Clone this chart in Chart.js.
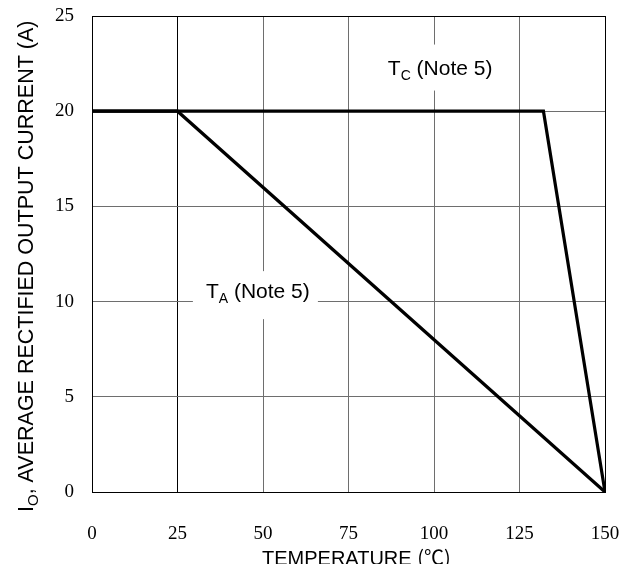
<!DOCTYPE html>
<html>
<head>
<meta charset="utf-8">
<script src="https://cdn.jsdelivr.net/npm/chart.js@4.4.1/dist/chart.umd.min.js"></script>
<style>
    body { margin: 0; background: #fff; }
    #ChartWrapper { width: 637px; height: 564px; }
</style>
</head>
<body>
<div id="ChartWrapper"><canvas id="Chart"></canvas></div>
<script>
// данные графика: температура и ток
var tempTc = [0, 132, 150];
var currTc = [20, 20, 0];
var tempTa = [0, 25, 150];
var currTa = [20, 20, 0];
var xTicks = [0, 25, 50, 75, 100, 125, 150];
var yTicks = [0, 5, 10, 15, 20, 25];

function toPoints(xs, ys) {
    var pts = [];
    for (var i = 0; i < xs.length; i++) {
        pts.push({ x: xs[i], y: ys[i] });
    }
    return pts;
}

var sansFont = "'Liberation Sans', Arial, sans-serif";

// текст с нижним индексом: T + sub + rest
function drawSubText(ctx, x, y, main, sub, rest, size) {
    ctx.font = size + "px " + sansFont;
    ctx.fillText(main, x, y);
    var w = ctx.measureText(main).width;
    ctx.font = Math.round(size * 0.68) + "px " + sansFont;
    ctx.fillText(sub, x + w, y + size * 0.25);
    w += ctx.measureText(sub).width;
    ctx.font = size + "px " + sansFont;
    ctx.fillText(rest, x + w, y);
}

var labelsPlugin = {
    id: 'noteLabels',
    beforeDatasetsDraw: function (chart) {
        var ctx = chart.ctx;
        var xs = chart.scales.x;
        var ys = chart.scales.y;
        ctx.save();
        ctx.fillStyle = '#fff';
        // белые подложки под подписями
        ctx.fillRect(xs.getPixelForValue(84.5), ys.getPixelForValue(23.5), 122, 46);
        ctx.fillRect(xs.getPixelForValue(29.5), ys.getPixelForValue(11.6), 125, 48);
        ctx.fillStyle = '#000';
        ctx.textBaseline = 'alphabetic';
        ctx.textAlign = 'left';
        drawSubText(ctx, xs.getPixelForValue(86.5), ys.getPixelForValue(21.9), 'T', 'C', ' (Note 5)', 21);
        drawSubText(ctx, xs.getPixelForValue(33.3), ys.getPixelForValue(10.2), 'T', 'A', ' (Note 5)', 21);
        ctx.restore();
    },
    afterDraw: function (chart) {
        var ctx = chart.ctx;
        ctx.save();
        ctx.fillStyle = '#000';
        ctx.textBaseline = 'alphabetic';
        ctx.textAlign = 'left';
        // подпись оси X
        ctx.font = "20px " + sansFont;
        ctx.fillText('TEMPERATURE', 262, 565);
        var w = ctx.measureText('TEMPERATURE ').width;
        ctx.font = "20px 'Noto Sans CJK JP', sans-serif";
        ctx.fillText('(℃)', 262 + w, 565);
        // подпись оси Y (повернута)
        ctx.translate(33, 512);
        ctx.rotate(-Math.PI / 2);
        drawSubText(ctx, 0, 0, 'I', 'O', ', AVERAGE RECTIFIED OUTPUT CURRENT (A)', 21.5);
        ctx.restore();
    }
};

function gridColor(c) {
    var v = c.tick ? c.tick.value : null;
    return (v === 25 || v === 150) ? '#000' : '#6e6e6e';
}

var config = {
    type: 'line',
    data: {
        datasets: [{
            label: 'TC',
            data: toPoints(tempTc, currTc),
            borderColor: '#000',
            borderWidth: 3.2,
            pointRadius: 0,
            fill: false,
            tension: 0
        }, {
            label: 'TA',
            data: toPoints(tempTa, currTa),
            borderColor: '#000',
            borderWidth: 3.2,
            pointRadius: 0,
            fill: false,
            tension: 0
        }]
    },
    options: {
        responsive: true,
        maintainAspectRatio: false,
        animation: false,
        layout: { padding: { top: 16, right: 32, left: 0, bottom: 0 } },
        plugins: {
            legend: { display: false },
            tooltip: { enabled: false }
        },
        scales: {
            x: {
                type: 'linear',
                min: 0,
                max: 150,
                afterBuildTicks: function (scale) {
                    scale.ticks = xTicks.map(function (v) { return { value: v }; });
                },
                afterFit: function (scale) { scale.height = 72; },
                // невидимые засечки вместо отступа подписей
                grid: { color: gridColor, lineWidth: 1, tickLength: 31, tickColor: 'rgba(0,0,0,0)' },
                border: { display: true, color: '#000', width: 1 },
                ticks: {
                    padding: 0,
                    color: '#000',
                    maxRotation: 0,
                    font: { family: "'Liberation Serif', serif", size: 19 }
                }
            },
            y: {
                type: 'linear',
                min: 0,
                max: 25,
                afterBuildTicks: function (scale) {
                    scale.ticks = yTicks.map(function (v) { return { value: v }; });
                },
                afterFit: function (scale) { scale.width = 92; },
                grid: { color: gridColor, lineWidth: 1, tickLength: 18, tickColor: 'rgba(0,0,0,0)' },
                border: { display: true, color: '#000', width: 1 },
                ticks: {
                    padding: 0,
                    color: '#000',
                    font: { family: "'Liberation Serif', serif", size: 19 }
                }
            }
        }
    },
    plugins: [labelsPlugin]
};

var myChart = new Chart(document.getElementById('Chart'), config);
</script>
</body>
</html>
